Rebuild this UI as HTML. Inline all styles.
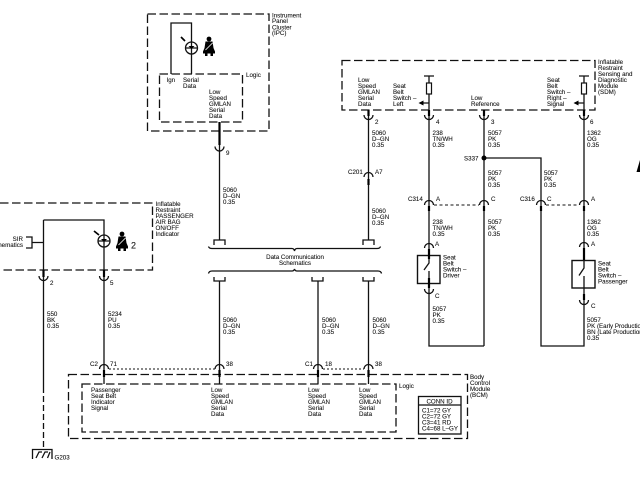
<!DOCTYPE html>
<html><head><meta charset="utf-8"><style>
html,body{margin:0;padding:0;background:#fff;width:640px;height:480px;overflow:hidden}
svg{display:block;filter:blur(.3px)}
text{font-family:"Liberation Sans",sans-serif;font-size:6.2px;fill:#111;stroke:#111;stroke-width:.08}
.w{stroke:#111;stroke-width:1.3;fill:none}
.t{stroke:#000;stroke-width:2.2;fill:none}
.d{stroke:#111;stroke-width:1.3;fill:none;stroke-dasharray:8.5 3.5}
.p{stroke:#111;stroke-width:1.1;fill:none;stroke-dasharray:2 2}
.k{fill:#000;stroke:none}
</style></head><body>
<svg width="640" height="480" viewBox="0 0 640 480" xmlns="http://www.w3.org/2000/svg">
<defs>
<path id="cu" d="M-4.5 0A4.5 4.5 0 0 0 4.5 0" fill="none" stroke="#111" stroke-width="1.3"/>
<path id="cd" d="M-4.5 0A4.5 4.5 0 0 1 4.5 0" fill="none" stroke="#111" stroke-width="1.3"/>
<g id="belt"><circle cx="0" cy="-9" r="2.4" class="k"/><path class="k" d="M-3.5-6.5H3.5L4.5 0 6 3.500V5.500H-6V3.500L-4.500 0Z"/><path d="M-3.500 2 3.500-5" stroke="#fff" stroke-width=".8"/><path class="k" d="M-4 5H-1.500V8H-4ZM1.500 5H4V8H1.500Z"/></g>
</defs>

<!-- IPC -->
<rect class="d" x="147.500" y="14" width="121.500" height="117"/>
<rect class="d" x="159.500" y="74" width="83" height="48"/>
<path class="w" d="M171 74V23H191.500V74"/>
<circle cx="191.500" cy="48" r="6" fill="#fff" stroke="#111" stroke-width="1.300"/>
<path class="w" d="M186 48H197M191.500 42V54"/>
<path class="k" d="M188.500 46H194.500L191.500 49Z"/>
<path class="t" style="stroke-width:1.700" d="M181 37 185 41"/>
<use href="#belt" x="209" y="48"/>
<text x="272" y="17.500">Instrument</text><text x="272" y="23">Panel</text><text x="272" y="29.500">Cluster</text><text x="272" y="35">(IPC)</text>
<text x="246" y="77">Logic</text>
<text x="166.500" y="82">Ign</text>
<text x="183" y="82">Serial</text><text x="183" y="88">Data</text>
<text x="209" y="94">Low</text><text x="209" y="100">Speed</text><text x="209" y="106">GMLAN</text><text x="209" y="112">Serial</text><text x="209" y="118">Data</text>
<path class="w" d="M219.500 122V240"/><path class="t" d="M219.500 122V145"/>
<use href="#cu" x="219.500" y="146.500"/>
<text x="226" y="155">9</text>
<text x="223" y="192">5060</text><text x="223" y="198">D–GN</text><text x="223" y="204">0.35</text>

<!-- Left indicator module -->
<path class="d" d="M0 203H152.500V270H0"/>
<path class="w" d="M43.500 220H104V369M43.500 220V387"/>
<path class="d" style="stroke-dasharray:6 3" d="M43.500 387V449"/>
<path class="w" d="M26 237H32V248H26M32 242.500H43.500"/>
<circle cx="104" cy="241" r="6" fill="#fff" stroke="#111" stroke-width="1.300"/>
<path class="w" d="M98.500 241H109.500M104 235V247"/>
<path class="k" d="M101 239H107L104 242Z"/>
<path class="t" style="stroke-width:1.700" d="M94 231 99 235"/>
<use href="#belt" x="122" y="243"/>
<text x="131" y="248.500" style="font-size:9px">2</text>
<text x="155.500" y="206">Inflatable</text><text x="155.500" y="212">Restraint</text><text x="155.500" y="218">PASSENGER</text><text x="155.500" y="224">AIR BAG</text><text x="155.500" y="230">ON/OFF</text><text x="155.500" y="236">Indicator</text>
<text x="23" y="241" text-anchor="end">SIR</text><text x="23" y="247" text-anchor="end">Schematics</text>
<path class="t" d="M43.500 270V277M104 270V277"/>
<use href="#cu" x="43.500" y="276"/><use href="#cu" x="104" y="276"/>
<text x="50" y="285">2</text><text x="110" y="285">5</text>
<text x="47" y="316">550</text><text x="47" y="322">BK</text><text x="47" y="328">0.35</text>
<text x="108" y="316">5234</text><text x="108" y="322">PU</text><text x="108" y="328">0.35</text>
<!-- Ground -->
<path class="w" d="M32.500 459V449.500H52V459M36 458 39 452H42M42 458 45 452H48M47.500 458 50 452"/>
<text x="54.500" y="459.500">G203</text>

<!-- Data communication braces -->
<path class="w" d="M368.500 116V240"/>
<path class="t" d="M368.500 179V185"/>
<use href="#cd" x="368.500" y="177"/>
<text x="348" y="174">C201</text><text x="375" y="174">A7</text>
<text x="372" y="213">5060</text><text x="372" y="219">D–GN</text><text x="372" y="225">0.35</text>
<path class="w" d="M214 245V240H225V245M363 245V240H374V245"/>
<path class="w" d="M208.500 246.500Q209 248.500 212 248.500H292Q294 248.500 294.500 251Q295 248.500 297 248.500H377Q380 248.500 380.500 246.500"/>
<text x="295" y="259" text-anchor="middle">Data Communication</text>
<text x="295" y="265" text-anchor="middle">Schematics</text>
<path class="w" d="M208.500 273.500Q209 271 212 271H292Q294 271 294.500 269Q295 271 297 271H378Q381 271 381.500 273.500"/>
<path class="w" d="M214 277V281H225V277M312 277V281H323V277M363 277V281H374V277"/>
<path class="w" d="M219.500 281V384M318 281V384M368.500 281V384"/>
<text x="223" y="322">5060</text><text x="223" y="328">D–GN</text><text x="223" y="334">0.35</text>
<text x="322" y="322">5060</text><text x="322" y="328">D–GN</text><text x="322" y="334">0.35</text>
<text x="372.500" y="322">5060</text><text x="372.500" y="328">D–GN</text><text x="372.500" y="334">0.35</text>

<!-- BCM -->
<rect class="d" x="68.500" y="374.500" width="399" height="64"/>
<rect class="d" x="82" y="384" width="314" height="48"/>
<path class="w" d="M104 369V384"/>
<path class="t" d="M104 370V377M219.500 370V377M318 370V377M368.500 370V377"/>
<use href="#cd" x="104" y="369"/><use href="#cd" x="219.500" y="369"/><use href="#cd" x="318" y="369"/><use href="#cd" x="368.500" y="369"/>
<path class="p" d="M109 369H215M323 369H364"/>
<text x="90" y="366">C2</text><text x="110" y="366">71</text><text x="226" y="366">38</text>
<text x="305" y="366">C1</text><text x="325" y="366">18</text><text x="375" y="366">38</text>
<text x="91" y="392">Passenger</text><text x="91" y="398">Seat Belt</text><text x="91" y="404">Indicator</text><text x="91" y="410">Signal</text>
<text x="211" y="392">Low</text><text x="211" y="398">Speed</text><text x="211" y="404">GMLAN</text><text x="211" y="410">Serial</text><text x="211" y="416">Data</text>
<text x="308" y="392">Low</text><text x="308" y="398">Speed</text><text x="308" y="404">GMLAN</text><text x="308" y="410">Serial</text><text x="308" y="416">Data</text>
<text x="359" y="392">Low</text><text x="359" y="398">Speed</text><text x="359" y="404">GMLAN</text><text x="359" y="410">Serial</text><text x="359" y="416">Data</text>
<text x="399" y="388">Logic</text>
<text x="470" y="379">Body</text><text x="470" y="385">Control</text><text x="470" y="391">Module</text><text x="470" y="397">(BCM)</text>
<rect x="418.500" y="396.500" width="42.500" height="37.500" fill="#fff" stroke="#111" stroke-width="1.300"/>
<path class="w" d="M418.500 405H461"/>
<text x="439.500" y="403.500" text-anchor="middle">CONN ID</text>
<text x="422" y="412.500">C1=72 GY</text><text x="422" y="418.500">C2=72 GY</text><text x="422" y="424.500">C3=41 RD</text><text x="422" y="430.500">C4=68 L–GY</text>

<!-- SDM -->
<rect class="d" x="342" y="60.500" width="253" height="49.500"/>
<text x="358" y="82">Low</text><text x="358" y="88">Speed</text><text x="358" y="94">GMLAN</text><text x="358" y="100">Serial</text><text x="358" y="106">Data</text>
<text x="393" y="88">Seat</text><text x="393" y="94">Belt</text><text x="393" y="100">Switch –</text><text x="393" y="106">Left</text>
<text x="471" y="100">Low</text><text x="471" y="106">Reference</text>
<text x="547" y="82">Seat</text><text x="547" y="88">Belt</text><text x="547" y="94">Switch –</text><text x="547" y="100">Right –</text><text x="547" y="106">Signal</text>
<text x="598" y="64">Inflatable</text><text x="598" y="70">Restraint</text><text x="598" y="76">Sensing and</text><text x="598" y="82">Diagnostic</text><text x="598" y="88">Module</text><text x="598" y="94">(SDM)</text>

<path class="w" d="M429 76V346H484M584 76V346H541V158H484M484 110V346"/>
<path class="w" d="M424 76H434M579 76H589"/>
<rect x="426.500" y="83" width="5" height="11" fill="#fff" stroke="#111" stroke-width="1.200"/>
<rect x="581.500" y="83" width="5" height="11" fill="#fff" stroke="#111" stroke-width="1.200"/>
<path class="w" d="M423 103H429M578 103H584"/>
<path class="k" d="M418.500 103 423.500 100.500V105.500ZM573.500 103 578.500 100.500V105.500Z"/>
<path class="t" d="M368.500 110V116M429 110V116M484 110V116M584 110V116"/>
<use href="#cu" x="368.500" y="115"/><use href="#cu" x="429" y="115"/><use href="#cu" x="484" y="115"/><use href="#cu" x="584" y="115"/>
<text x="375" y="124">2</text><text x="436" y="124">4</text><text x="491" y="124">3</text><text x="590" y="124">6</text>
<text x="372" y="135">5060</text><text x="372" y="141">D–GN</text><text x="372" y="147">0.35</text>
<text x="432.500" y="135">238</text><text x="432.500" y="141">TN/WH</text><text x="432.500" y="147">0.35</text>
<text x="488" y="135">5057</text><text x="488" y="141">PK</text><text x="488" y="147">0.35</text>
<text x="587" y="135">1362</text><text x="587" y="141">OG</text><text x="587" y="147">0.35</text>
<circle cx="484" cy="158" r="2.500" class="k"/>
<text x="464" y="160.500">S337</text>
<text x="488" y="175">5057</text><text x="488" y="181">PK</text><text x="488" y="187">0.35</text>
<text x="544" y="175">5057</text><text x="544" y="181">PK</text><text x="544" y="187">0.35</text>

<!-- C314 / C316 -->
<use href="#cd" x="429" y="205"/><use href="#cd" x="484" y="205"/><use href="#cd" x="541" y="205"/><use href="#cd" x="584" y="205"/>
<path class="t" d="M429 206V211M484 206V211M541 206V211M584 206V211"/>
<path class="p" style="stroke-dasharray:3 2.500" d="M434 205H479M546 205H579"/>
<text x="408" y="201">C314</text><text x="436" y="201">A</text><text x="491" y="201">C</text>
<text x="520" y="201">C316</text><text x="547" y="201">C</text><text x="591" y="201">A</text>
<text x="432.500" y="224">238</text><text x="432.500" y="230">TN/WH</text><text x="432.500" y="236">0.35</text>
<text x="488" y="224">5057</text><text x="488" y="230">PK</text><text x="488" y="236">0.35</text>
<text x="587" y="224">1362</text><text x="587" y="230">OG</text><text x="587" y="236">0.35</text>

<!-- Driver switch -->
<use href="#cd" x="429" y="248"/>
<text x="435" y="246">A</text>
<rect x="417.500" y="255.500" width="22.500" height="28" fill="#fff" stroke="#111" stroke-width="1.400"/>
<path class="w" d="M429 255.500V263L424 270M429 271V283.500"/>
<path class="t" d="M429 249V259M429 278V288"/>
<use href="#cu" x="429" y="289"/>
<text x="443" y="259.500">Seat</text><text x="443" y="265.500">Belt</text><text x="443" y="271.500">Switch –</text><text x="443" y="277.500">Driver</text>
<text x="435" y="298">C</text>
<text x="432.500" y="311">5057</text><text x="432.500" y="317">PK</text><text x="432.500" y="323">0.35</text>

<!-- Passenger switch -->
<use href="#cd" x="584" y="247"/>
<text x="591" y="246">A</text>
<rect x="572" y="260.500" width="23" height="27.500" fill="#fff" stroke="#111" stroke-width="1.400"/>
<path class="t" d="M584 248V260"/>
<path class="w" d="M584 260.500V268L579 275.500M584 276V288"/>
<path class="t" d="M584 294V300"/>
<use href="#cu" x="584" y="300"/>
<text x="598" y="265.500">Seat</text><text x="598" y="271.500">Belt</text><text x="598" y="277.500">Switch –</text><text x="598" y="283.500">Passenger</text>
<text x="591" y="308">C</text>
<text x="587" y="322">5057</text><text x="587" y="328">PK (Early Production)</text><text x="587" y="334">BN (Late Production)</text><text x="587" y="340">0.35</text>

<path class="k" d="M640 160V172H636.500Z"/>
</svg>
</body></html>
